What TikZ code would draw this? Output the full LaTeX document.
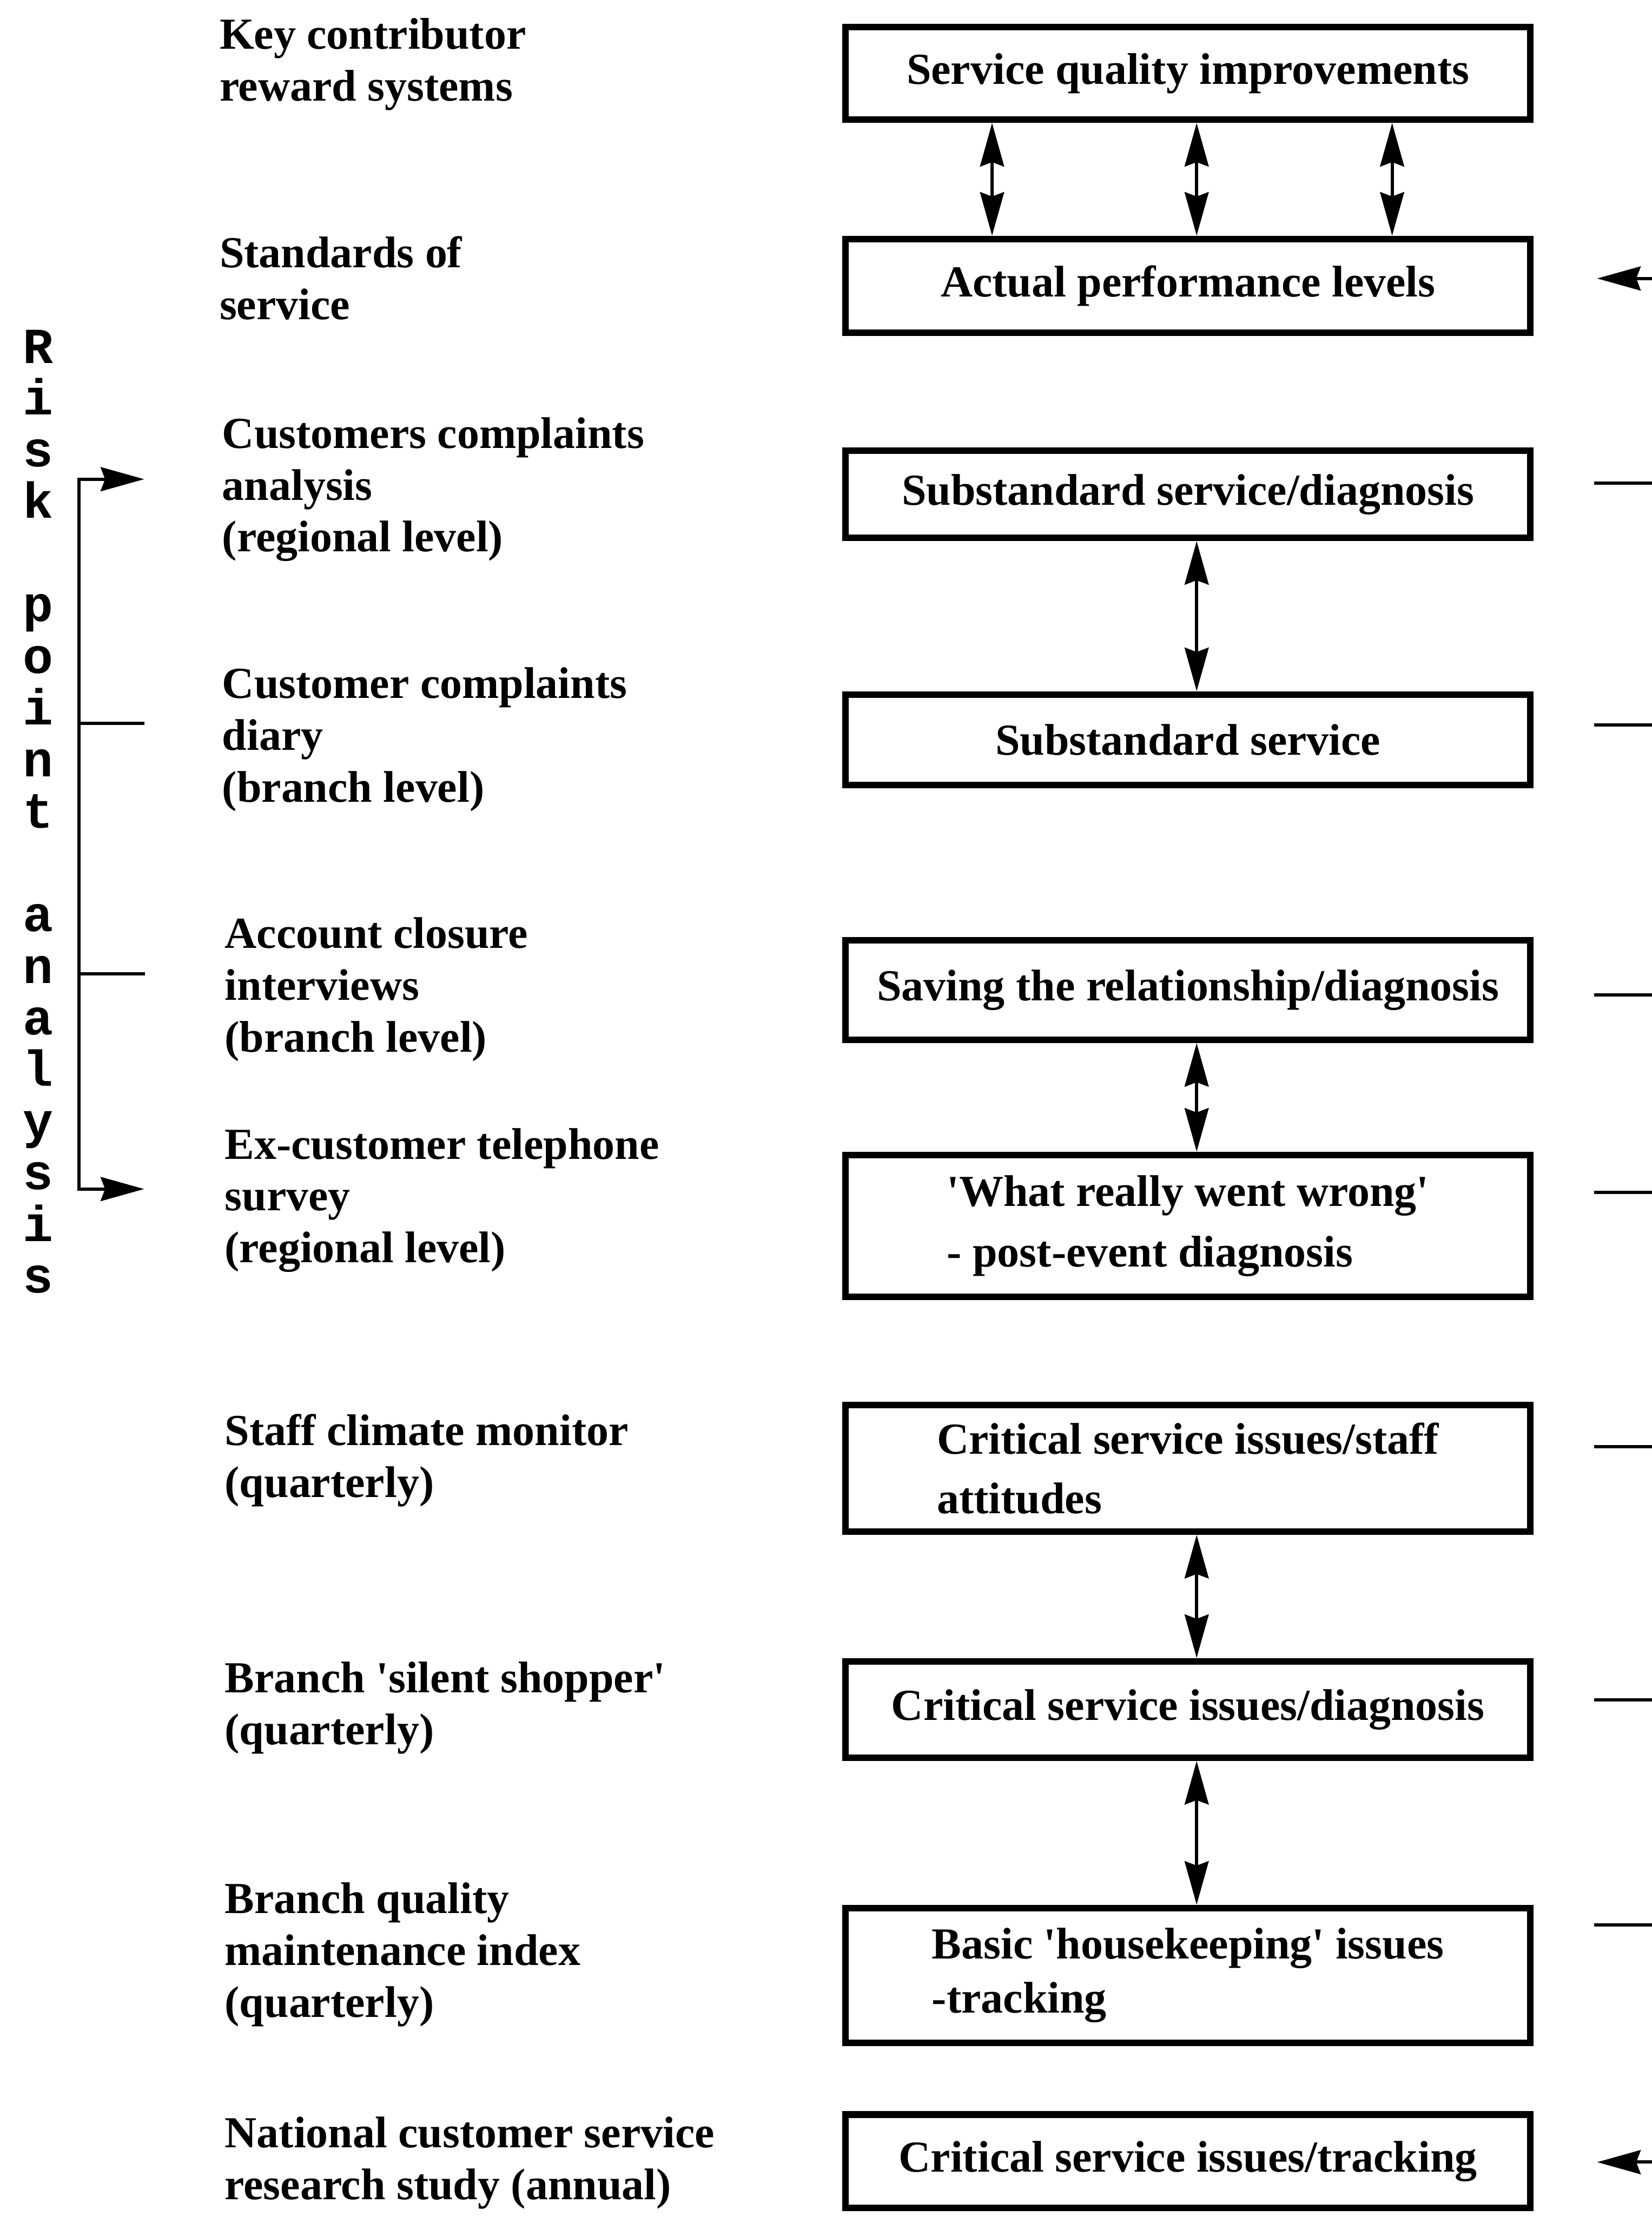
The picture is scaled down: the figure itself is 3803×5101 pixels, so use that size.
\documentclass[tikz,border=0pt]{standalone}
\usepackage{fontspec}
\setmainfont{Liberation Serif}
\newfontfamily\rpafont{Liberation Mono}
\usetikzlibrary{arrows.meta}
\newcommand\lblfont{\bfseries\fontsize{29}{33.9}\selectfont}
\begin{document}
\begin{tikzpicture}[x=0.01cm,y=-0.01cm,
  every node/.style={inner sep=0pt},
  lbl/.style={anchor=base west, align=left, font=\lblfont},
  box/.style={draw, line width=0.15cm, minimum width=15.75cm, font=\lblfont, align=left},
  link/.style={line width=0.075cm},
  >={Stealth[length=1cm,width=0.55cm,inset=0.1cm]}]
\useasboundingbox (0,0) rectangle (3803,5101);

% measurement boxes
\node[box, minimum height=2.13cm] (b1)  at (2735,169)  {Service quality improvements};
\node[box, minimum height=2.16cm] (b2)  at (2735,658)  {Actual performance levels};
\node[box, minimum height=2.00cm] (b3)  at (2735,1138) {Substandard service/diagnosis};
\node[box, minimum height=2.09cm] (b4)  at (2735,1703) {Substandard service};
\node[box, minimum height=2.29cm] (b5)  at (2735,2279) {Saving the relationship/diagnosis};
\node[box, minimum height=3.27cm, font=\bfseries\fontsize{29}{39.8}\selectfont] (b6) at (2735,2822)
  {\textquotesingle What really went wrong\textquotesingle\\- post-event diagnosis};
\node[box, minimum height=2.91cm, font=\bfseries\fontsize{29}{39}\selectfont] (b7) at (2735,3380)
  {Critical service issues/staff\\attitudes};
\node[box, minimum height=2.22cm] (b8)  at (2735,3935) {Critical service issues/diagnosis};
\node[box, minimum height=3.10cm, font=\bfseries\fontsize{29}{35.3}\selectfont] (b9) at (2735,4547)
  {Basic \textquotesingle{}housekeeping\textquotesingle{} issues\\-tracking};
\node[box, minimum height=2.15cm] (b10) at (2735,4975) {Critical service issues/tracking};

% two-way links between the boxes
\coordinate (ax1) at (2284,0);
\coordinate (ax2) at (2755,0);
\coordinate (ax3) at (3205,0);
\draw[link,<->] (b1.south -| ax1) -- (b2.north -| ax1);
\draw[link,<->] (b1.south -| ax2) -- (b2.north -| ax2);
\draw[link,<->] (b1.south -| ax3) -- (b2.north -| ax3);
\draw[link,<->] (b3.south -| ax2) -- (b4.north -| ax2);
\draw[link,<->] (b5.south -| ax2) -- (b6.north -| ax2);
\draw[link,<->] (b7.south -| ax2) -- (b8.north -| ax2);
\draw[link,<->] (b8.south -| ax2) -- (b9.north -| ax2);

% feeds entering from the right
\foreach \yy [count=\i] in {1112,1669,2290,2745,3330,3913,4431} {
  \coordinate (rs\i) at (3670,\yy);
  \coordinate (re\i) at (3803,\yy);
  \draw[link] (rs\i) -- (re\i);
}
\coordinate (ra1) at (3677,641);  \coordinate (rb1) at (3803,641);
\coordinate (ra2) at (3677,4977); \coordinate (rb2) at (3803,4977);
\draw[link,->] (rb1) -- (ra1);
\draw[link,->] (rb2) -- (ra2);

% measurement sources (anchored on the last baseline)
\node[lbl] (l1)  at (505,232)  {Key contributor\\reward systems};
\node[lbl] (l2)  at (505,735)  {Standards of\\service};
\node[lbl] (l3)  at (511,1270) {Customers complaints\\analysis\\(regional level)};
\node[lbl] (l4)  at (511,1846) {Customer complaints\\diary\\(branch level)};
\node[lbl] (l5)  at (517,2421) {Account closure\\interviews\\(branch level)};
\node[lbl] (l6)  at (517,2906) {Ex-customer telephone\\survey\\(regional level)};
\node[lbl] (l7)  at (517,3446) {Staff climate monitor\\(quarterly)};
\node[lbl] (l8)  at (517,4015) {Branch \textquotesingle{}silent shopper\textquotesingle\\(quarterly)};
\node[lbl] (l9)  at (517,4643) {Branch quality\\maintenance index\\(quarterly)};
\node[lbl] (l10) at (517,5063) {National customer service\\research study (annual)};

% risk point analysis bracket
\coordinate (bt) at (182,1103);
\coordinate (bb) at (182,2737);
\coordinate (at) at (332,1103);
\coordinate (ab) at (332,2737);
\coordinate (t1) at (182,1665); \coordinate (t1e) at (332,1665);
\coordinate (t2) at (182,2242); \coordinate (t2e) at (334,2242);
\draw[link,<->] (at) -- (bt) -- (bb) -- (ab);
\draw[link] (t1) -- (t1e);
\draw[link] (t2) -- (t2e);

\foreach \ch/\k in {R/0,i/1,s/2,k/3,p/5,o/6,i/7,n/8,t/9,a/11,n/12,a/13,l/14,y/15,s/16,i/17,s/18}
  \node[anchor=base, font=\rpafont\bfseries\fontsize{33}{33}\selectfont] (rpa\k) at (88,{836+118.9*\k}) {\ch};
\end{tikzpicture}
\end{document}
